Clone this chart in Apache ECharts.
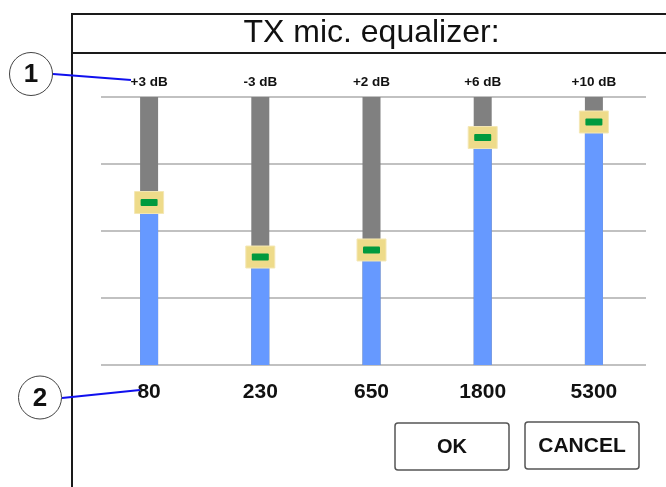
<!DOCTYPE html>
<html>
<head>
<meta charset="utf-8">
<script src="https://cdn.jsdelivr.net/npm/echarts@6/dist/echarts.min.js"></script>
<style>
html,body{margin:0;padding:0;background:#fff;}
#chart{width:666px;height:487px;}
</style>
</head>
<body>
<div id="chart"></div>
<script>
// Equalizer bands (Hz)
const categories = ['80', '230', '650', '1800', '5300'];
// Gain labels shown above each slider
const gainLabels = ['+3 dB', '-3 dB', '+2 dB', '+6 dB', '+10 dB'];
// Slider knob positions (dB scale, -12..+12)
const sliderPos = [2.55, -2.33, -1.7, 8.37, 9.76];
// Value axis
const yMin = -12, yMax = 12, yInterval = 6;

const FONT = "'Liberation Sans', Arial, sans-serif";

function renderSlider(params, api) {
  const i = api.value(0), v = api.value(1);
  const top = api.coord([i, yMax]);
  const bot = api.coord([i, yMin]);
  const k = api.coord([i, v]);
  const cx = top[0], w = 18;
  return {
    type: 'group',
    children: [
      { type: 'rect', shape: { x: cx - w / 2, y: top[1], width: w, height: bot[1] - top[1] }, style: { fill: '#808080' } },
      { type: 'rect', shape: { x: cx - w / 2, y: k[1], width: w, height: bot[1] - k[1] }, style: { fill: '#6699ff' } },
      { type: 'rect', shape: { x: cx - 14.5, y: k[1] - 11, width: 29, height: 22 }, style: { fill: '#eedb8a', stroke: '#f4e7b4', lineWidth: 1 } },
      { type: 'rect', shape: { x: cx - 8.5, y: k[1] - 3.5, width: 17, height: 7, r: 1 }, style: { fill: '#009a3e' } }
    ]
  };
}

const chart = echarts.init(document.getElementById('chart'), null, { renderer: 'canvas' });
chart.setOption({
  backgroundColor: '#ffffff',
  animation: false,
  textStyle: { fontFamily: FONT },
  grid: [
    { left: 101, right: 20, top: 97, bottom: 122 },
    { left: 93.5, right: 16.5, top: 97, bottom: 122 }
  ],
  xAxis: [
    { type: 'category', gridIndex: 0, data: categories, show: false },
    {
      type: 'category', gridIndex: 1, data: categories, position: 'bottom',
      axisLine: { show: false }, axisTick: { show: false }, splitLine: { show: false },
      axisLabel: { color: '#111', fontSize: 21, fontWeight: 'bold', margin: 17, fontFamily: FONT }
    },
    {
      type: 'category', gridIndex: 1, data: gainLabels, position: 'top',
      axisLine: { show: false }, axisTick: { show: false }, splitLine: { show: false },
      axisLabel: { color: '#111', fontSize: 13.5, fontWeight: 'bold', margin: 8, fontFamily: FONT }
    }
  ],
  yAxis: [
    {
      type: 'value', gridIndex: 0, min: yMin, max: yMax, interval: yInterval,
      axisLine: { show: false }, axisTick: { show: false }, axisLabel: { show: false },
      splitLine: { show: true, lineStyle: { color: '#acacac', width: 1.5 } }
    },
    {
      type: 'value', gridIndex: 1, min: yMin, max: yMax, interval: yInterval,
      axisLine: { show: false }, axisTick: { show: false }, axisLabel: { show: false },
      splitLine: { show: false }
    }
  ],
  series: [{
    type: 'custom',
    xAxisIndex: 1,
    yAxisIndex: 1,
    renderItem: renderSlider,
    data: sliderPos.map((v, i) => [i, v]),
    z: 3
  }],
  graphic: [
    // frame
    { type: 'line', shape: { x1: 72, y1: 14, x2: 666, y2: 14 }, style: { stroke: '#1a1a1a', lineWidth: 2 } },
    { type: 'line', shape: { x1: 72, y1: 53, x2: 666, y2: 53 }, style: { stroke: '#1a1a1a', lineWidth: 2 } },
    { type: 'line', shape: { x1: 72, y1: 13, x2: 72, y2: 487 }, style: { stroke: '#1a1a1a', lineWidth: 2 } },
    // title
    { type: 'text', x: 371.5, y: 33, style: { text: 'TX mic. equalizer:', fontSize: 32, fontFamily: FONT, fill: '#111', align: 'center', verticalAlign: 'middle' } },
    // callout 1
    { type: 'line', z: 10, shape: { x1: 53, y1: 74, x2: 131, y2: 80 }, style: { stroke: '#1010ee', lineWidth: 2 } },
    { type: 'circle', z: 10, shape: { cx: 31, cy: 74, r: 21.5 }, style: { fill: '#fff', stroke: '#444', lineWidth: 1 } },
    { type: 'text', z: 11, x: 31, y: 75, style: { text: '1', fontSize: 26, fontWeight: 'bold', fontFamily: FONT, fill: '#111', align: 'center', verticalAlign: 'middle' } },
    // callout 2
    { type: 'line', z: 10, shape: { x1: 62, y1: 398, x2: 140, y2: 390 }, style: { stroke: '#1010ee', lineWidth: 2 } },
    { type: 'circle', z: 10, shape: { cx: 40, cy: 397.5, r: 21.5 }, style: { fill: '#fff', stroke: '#444', lineWidth: 1 } },
    { type: 'text', z: 11, x: 40, y: 398.5, style: { text: '2', fontSize: 26, fontWeight: 'bold', fontFamily: FONT, fill: '#111', align: 'center', verticalAlign: 'middle' } },
    // buttons
    { type: 'rect', shape: { x: 395, y: 423, width: 114, height: 47, r: 3 }, style: { fill: '#fff', stroke: '#555', lineWidth: 1.5 } },
    { type: 'text', x: 452, y: 447, style: { text: 'OK', fontSize: 20, fontWeight: 'bold', fontFamily: FONT, fill: '#111', align: 'center', verticalAlign: 'middle' } },
    { type: 'rect', shape: { x: 525, y: 422, width: 114, height: 47, r: 3 }, style: { fill: '#fff', stroke: '#555', lineWidth: 1.5 } },
    { type: 'text', x: 582, y: 446, style: { text: 'CANCEL', fontSize: 21, fontWeight: 'bold', fontFamily: FONT, fill: '#111', align: 'center', verticalAlign: 'middle' } }
  ]
});
</script>
</body>
</html>
